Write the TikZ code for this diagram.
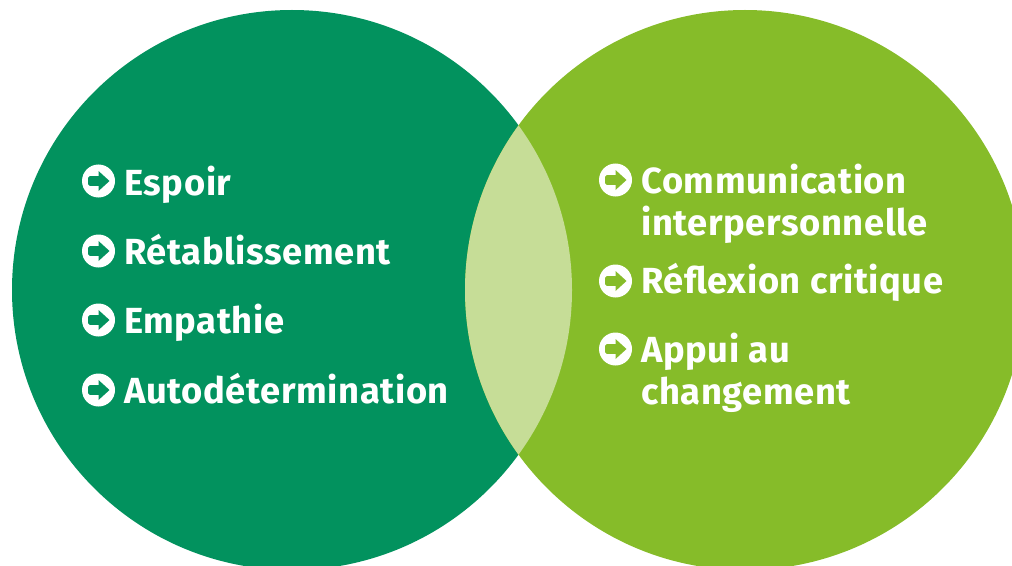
\documentclass[tikz,border=0pt]{standalone}
\usepackage{fontspec}
\setmainfont[LetterSpace=1.7]{Fira Sans}
\definecolor{darkgreen}{HTML}{02925E}
\definecolor{lightgreen}{HTML}{86BC29}
\definecolor{lensgreen}{HTML}{C6DD97}
\tikzset{
	itemtext/.style={anchor=base west,inner sep=0pt,text=white,align=left,font=\fontsize{31}{35.8}\selectfont\bfseries},
	bulletdot/.style={circle,fill=white,inner sep=0pt,minimum size=0.99cm},
	pics/bulletarrow/.style={code={
		\fill[#1] (0,4.8) [rounded corners=1.5pt] --(-10.5,4.8)--(-10.5,-4.8) [sharp corners] --(0,-4.8)--(0,-10)--(11,0)--(0,10)--cycle;
	}}
}
\begin{document}
\begin{tikzpicture}[x=0.03cm,y=-0.03cm,line join=round,line cap=round]
	\useasboundingbox (0,0) rectangle (1012,566);
	\begin{scope}
		\clip (0,0) rectangle (1012,566);
		\fill[darkgreen] (292,290) circle [radius=280];
		\fill[lightgreen] (745,290) circle [radius=280];
		\clip (292,290) circle [radius=280];
		\fill[lensgreen] (745,290) circle [radius=280];
	\end{scope}
	% left circle
	\node[bulletdot] (dotespoir) at (98.5,181) {};
	\pic at (dotespoir) {bulletarrow=darkgreen};
	\node[itemtext] (espoir) at (124,195) {Espoir};
	\node[bulletdot] (dotretab) at (98.5,251) {};
	\pic at (dotretab) {bulletarrow=darkgreen};
	\node[itemtext] (retab) at (124,264) {Rétablissement};
	\node[bulletdot] (dotempathie) at (98.5,320) {};
	\pic at (dotempathie) {bulletarrow=darkgreen};
	\node[itemtext] (empathie) at (124,333) {Empathie};
	\node[bulletdot] (dotauto) at (98.5,390) {};
	\pic at (dotauto) {bulletarrow=darkgreen};
	\node[itemtext] (auto) at (124,403) {Autodétermination};
	% right circle
	\node[bulletdot] (dotcomm) at (615.5,180) {};
	\pic at (dotcomm) {bulletarrow=lightgreen};
	\node[itemtext] (comm) at (641,235) {Communication\\interpersonnelle};
	\node[bulletdot] (dotreflex) at (615.5,281) {};
	\pic at (dotreflex) {bulletarrow=lightgreen};
	\node[itemtext] (reflex) at (641,293) {Réflexion critique};
	\node[bulletdot] (dotappui) at (615.5,349) {};
	\pic at (dotappui) {bulletarrow=lightgreen};
	\node[itemtext] (appui) at (641,404) {Appui au\\changement};
\end{tikzpicture}
\end{document}
